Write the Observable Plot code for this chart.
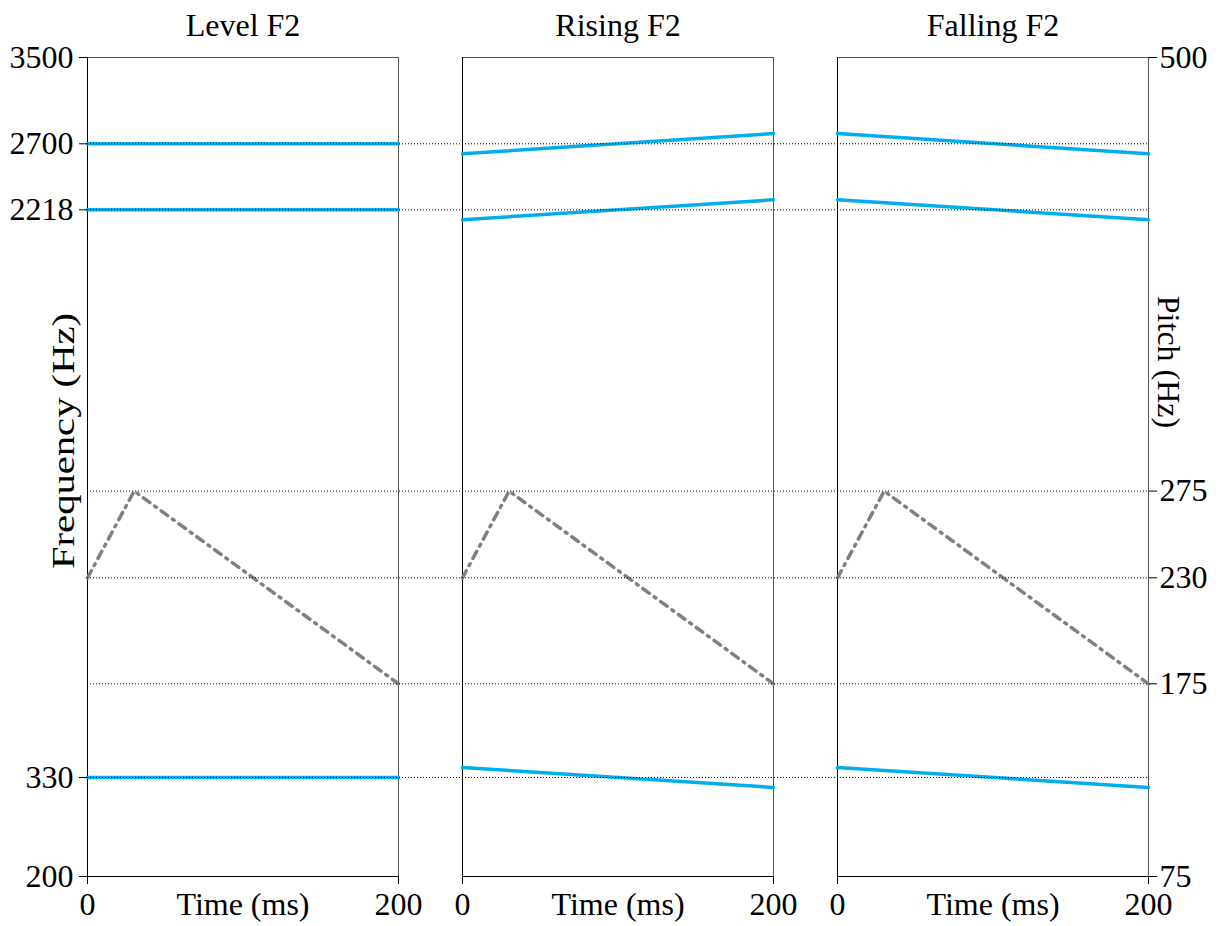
<!DOCTYPE html>
<html><head><meta charset="utf-8">
<script src="https://cdn.jsdelivr.net/npm/d3@7"></script>
<script src="https://cdn.jsdelivr.net/npm/@observablehq/plot@0.6"></script>
<style>
body{margin:0;background:#fff;}
#chart{position:relative;width:1219px;height:926px;}
#chart svg{position:absolute;left:0;top:0;}
</style></head><body><div id="chart"></div>
<script>
// ---- data ----
const panels = ["Level F2", "Rising F2", "Falling F2"];
const timeMs = [0, 200];
const f1Start = [330, 363, 363];
const f1End   = [330, 317, 317];
const f2Start = [2218, 2185, 2291];
const f2End   = [2218, 2291, 2185];
const f3Start = [2700, 2627, 2795];
const f3End   = [2700, 2795, 2627];
const pitchTime = [0, 30, 200];
const pitchHz   = [230, 275, 175];
const freqTicks  = [200, 330, 2218, 2700, 3500];
const freqGrid   = [330, 2218, 2700];
const pitchTicks = [75, 175, 230, 275, 500];
const pitchGrid  = [175, 230, 275];
const timeTicks  = [0, 200];

// ---- tables ----
const formantRows = [];
panels.forEach((p, i) => {
  [["F1", f1Start[i], f1End[i]], ["F2", f2Start[i], f2End[i]], ["F3", f3Start[i], f3End[i]]]
    .forEach(([f, a, b]) => {
      formantRows.push({panel: p, formant: f, t: timeMs[0], hz: a});
      formantRows.push({panel: p, formant: f, t: timeMs[1], hz: b});
    });
});
const pitchRows = [];
panels.forEach(p => pitchTime.forEach((t, j) => pitchRows.push({panel: p, t, hz: pitchHz[j]})));

// ---- layout ----
const W = 1219, H = 926, mT = 57, mB = 50, mL = 87, mR = 71;
const font = "'Liberation Serif', 'Times New Roman', serif";
const base = {
  width: W, height: H, marginTop: mT, marginBottom: mB, marginLeft: mL, marginRight: mR,
  style: {fontFamily: font, fontSize: "32px", background: "transparent", color: "#000", overflow: "visible"}
};
const fxScale = {domain: panels, paddingInner: 0.1707, paddingOuter: 0, round: false};
// piecewise (non-uniform) frequency axis, as in the original figure
const freqY = {type: "linear", domain: freqTicks, range: [H - mB, 777, 209.3, 143.3, mT]};
const pitchY = {type: "linear", domain: [75, 500], range: [H - mB, mT]};
const xScale = {type: "linear", domain: [0, 200]};
const blue = "#00aeef";

const chart = document.getElementById("chart");

// Layer 1: formants (faceted)
chart.append(Plot.plot({
  ...base,
  fx: fxScale, x: xScale, y: freqY,
  marks: [
    Plot.frame({stroke: "#555", strokeWidth: 1}),
    Plot.ruleX([0], {stroke: "#000"}),
    Plot.ruleY([200], {stroke: "#000"}),
    Plot.lineY(formantRows, {fx: "panel", x: "t", y: "hz", z: "formant", stroke: blue, strokeWidth: 3.5}),
    Plot.axisY({ticks: freqTicks, tickFormat: d => String(d), tickSize: 8, tickPadding: 6, label: null}),
    Plot.axisX({ticks: timeTicks, tickFormat: d => String(d), tickSize: 8, tickPadding: 8, label: null}),
    Plot.axisFx({anchor: "top", tickSize: 0, tickPadding: 22, label: null}),
    Plot.text(["Time (ms)"], {frameAnchor: "bottom", lineAnchor: "top", dy: 16})
  ]
}));

// Layer 2: pitch contours (faceted)
chart.append(Plot.plot({
  ...base,
  fx: {...fxScale, axis: null}, x: {...xScale, axis: null}, y: pitchY,
  marks: [
    Plot.lineY(pitchRows, {fx: "panel", x: "t", y: "hz", stroke: "#808080", strokeWidth: 3.5, strokeDasharray: "8,6,2,6"}),
    Plot.axisY({anchor: "right", ticks: pitchTicks, tickFormat: d => String(d), tickSize: 8, tickPadding: 3, label: null})
  ]
}));

// Layer 3: frequency reference lines (whole width)
const freqGridPlot = Plot.plot({
  ...base,
  y: {...freqY, axis: null},
  marks: [
    Plot.ruleY(freqGrid, {stroke: "#000", strokeWidth: 1, strokeDasharray: "1,2"}),
    Plot.text(["Frequency (Hz)"], {frameAnchor: "left", textAnchor: "middle", rotate: -90, dx: -24, dy: -26})
  ]
});
// the original label is drawn horizontally stretched along its baseline
d3.select(freqGridPlot).selectAll("text").each(function() {
  const el = d3.select(this);
  const tr = el.attr("transform") || "";
  el.attr("transform", tr + " scale(1.27,1)");
});
chart.append(freqGridPlot);

// Layer 4: pitch reference lines (whole width)
chart.append(Plot.plot({
  ...base,
  y: {...pitchY, axis: null},
  marks: [
    Plot.ruleY(pitchGrid, {stroke: "#000", strokeWidth: 1, strokeDasharray: "1,2"}),
    Plot.text(["Pitch (Hz)"], {frameAnchor: "right", textAnchor: "middle", rotate: 90, dx: 20, dy: -105})
  ]
}));
</script></body></html>
